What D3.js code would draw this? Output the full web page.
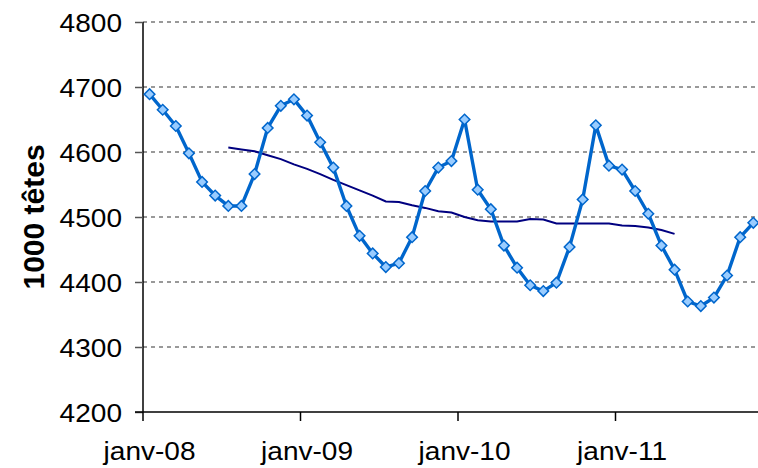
<!DOCTYPE html>
<html>
<head>
<meta charset="utf-8">
<script src="https://cdn.jsdelivr.net/npm/d3@7"></script>
<style>
  body { margin: 0; background: #fff; }
  svg { display: block; font-family: "Liberation Sans", Arial, sans-serif; }
</style>
</head>
<body>
<div id="chart"></div>
<script>
// monthly herd size, janv-08 .. nov-11 (1000 têtes)
const monthNames = ["janv", "févr", "mars", "avr", "mai", "juin", "juil", "août", "sept", "oct", "nov", "déc"];
const years = ["08", "09", "10", "11"];
const months = years.flatMap(y => monthNames.map(m => `${m}-${y}`));

const heads = [
  4689, 4665, 4640, 4598, 4554, 4533, 4517, 4517, 4566, 4637, 4671, 4681,
  4656, 4615, 4576, 4517, 4471, 4444, 4423, 4429, 4469, 4540, 4576, 4586,
  4650, 4542, 4512, 4456, 4422, 4395, 4386, 4399, 4454, 4527, 4641, 4579,
  4573, 4540, 4505, 4456, 4419, 4370, 4363, 4376, 4410, 4469, 4491
];

// 12-month trend, juil-08 .. mai-11
const trendStart = 6;
const trend = [
  4607, 4604, 4601, 4595, 4589, 4581, 4574, 4566, 4557, 4549, 4541, 4533,
  4524, 4523, 4518, 4514, 4509, 4507, 4500, 4495, 4493, 4493, 4493, 4497,
  4496, 4490, 4490, 4490, 4490, 4490, 4487, 4486, 4484, 4480, 4474
];

const yTicks = [4200, 4300, 4400, 4500, 4600, 4700, 4800];
const xTickLabels = ["janv-08", "janv-09", "janv-10", "janv-11"];

const width = 758, height = 468;
const plotLeft = 143, plotTop = 22, plotBottom = 412;
const stepX = 13.125;
const fs = 25.5;
const sx = 1.1; // labels look a little stretched horizontally

const svg = d3.select("#chart").append("svg")
  .attr("width", width)
  .attr("height", height);

const x = d3.scaleBand()
  .domain(months)
  .range([plotLeft, plotLeft + months.length * stepX])
  .paddingInner(0);

const y = d3.scaleLinear()
  .domain([4200, 4800])
  .range([plotBottom, plotTop]);

const cx = m => x(m) + x.bandwidth() / 2;

// grid
svg.append("g")
  .selectAll("line")
  .data(yTicks.slice(1))
  .join("line")
  .attr("x1", plotLeft)
  .attr("x2", width)
  .attr("y1", d => y(d))
  .attr("y2", d => y(d))
  .attr("stroke", "#999")
  .attr("stroke-width", 2)
  .attr("stroke-dasharray", "4,4");

// y axis
const yAxis = svg.append("g")
  .attr("transform", `translate(${plotLeft},0)`)
  .call(d3.axisLeft(y).tickValues(yTicks).tickSize(8).tickFormat(d3.format("d")).tickPadding(0));
yAxis.select(".domain").attr("stroke", "#000").attr("stroke-width", 1.5).attr("d", `M0,${plotTop}V${plotBottom}`);
yAxis.selectAll(".tick line").attr("stroke", "#555").attr("stroke-width", 1.5);
yAxis.selectAll(".tick text")
  .attr("x", null)
  .attr("dy", null)
  .attr("text-anchor", "end")
  .attr("font-size", fs)
  .attr("fill", "#000")
  .attr("transform", `translate(-21,9) scale(${sx},1)`);

// x axis
const janv = months.filter((m, i) => i % 12 === 0);
const xAxis = svg.append("g")
  .attr("transform", `translate(0,${plotBottom})`);
xAxis.append("line")
  .attr("x1", plotLeft - 8)
  .attr("x2", width)
  .attr("stroke", "#000")
  .attr("stroke-width", 1.5);
xAxis.selectAll(".tk")
  .data(janv)
  .join("line")
  .attr("class", "tk")
  .attr("x1", d => x(d))
  .attr("x2", d => x(d))
  .attr("y2", 9)
  .attr("stroke", "#000")
  .attr("stroke-width", 1.5);
xAxis.selectAll(".lbl")
  .data(janv)
  .join("text")
  .attr("class", "lbl")
  .attr("text-anchor", "middle")
  .attr("font-size", fs)
  .attr("transform", d => `translate(${cx(d)},48) scale(${sx},1)`)
  .text((d, i) => xTickLabels[i]);

// y label
svg.append("text")
  .attr("transform", `translate(44,217) rotate(-90)`)
  .attr("text-anchor", "middle")
  .attr("font-size", 30)
  .attr("font-weight", "bold")
  .text("1000 têtes");

// series
const series = heads.map((v, i) => ({ m: months[i], v }));
const trendPts = trend.map((v, i) => ({ m: months[trendStart + i], v }));

const line = d3.line().x(d => cx(d.m)).y(d => y(d.v));

svg.append("path")
  .datum(trendPts)
  .attr("fill", "none")
  .attr("stroke", "#000080")
  .attr("stroke-width", 2)
  .attr("d", line);

svg.append("path")
  .datum(series)
  .attr("fill", "none")
  .attr("stroke", "#0066cc")
  .attr("stroke-width", 3.4)
  .attr("stroke-linejoin", "round")
  .attr("d", line);

const diamond = d3.symbol().type(d3.symbolSquare).size(56);
svg.append("g")
  .selectAll("path")
  .data(series)
  .join("path")
  .attr("d", diamond)
  .attr("transform", d => `translate(${cx(d.m)},${y(d.v)}) rotate(45)`)
  .attr("fill", "#99ccff")
  .attr("stroke", "#0066cc")
  .attr("stroke-width", 1.5);
</script>
</body>
</html>
